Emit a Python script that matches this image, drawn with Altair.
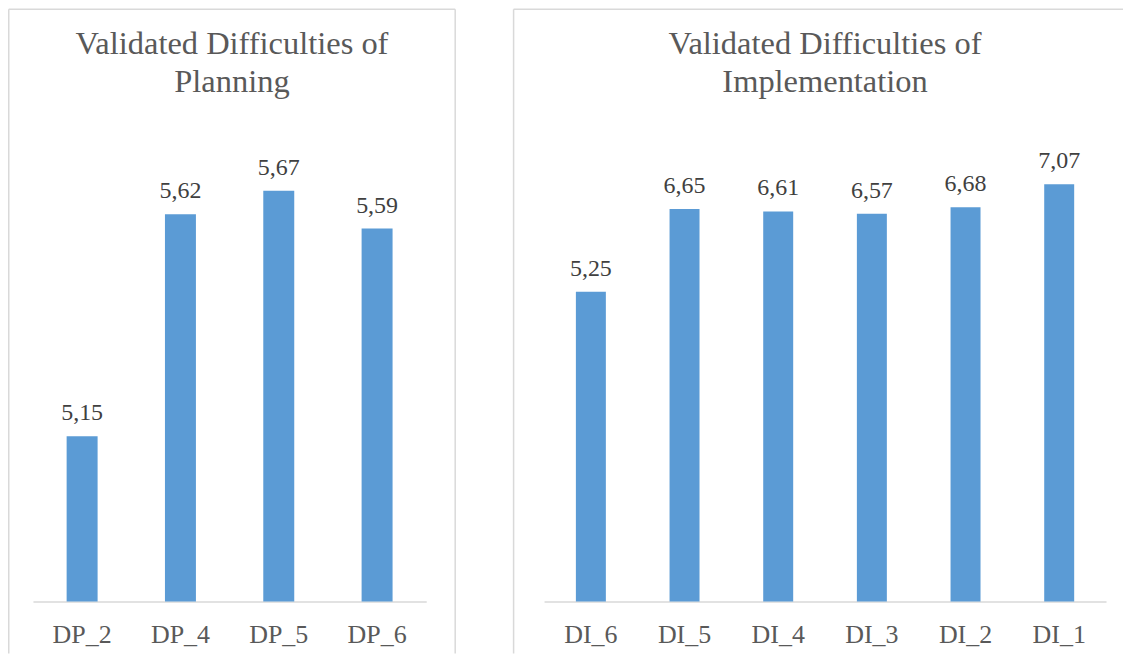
import altair as alt
import pandas as pd

# ---- data ----
dp_cats = ["DP_2", "DP_4", "DP_5", "DP_6"]
dp_vals = [5.15, 5.62, 5.67, 5.59]
di_cats = ["DI_6", "DI_5", "DI_4", "DI_3", "DI_2", "DI_1"]
di_vals = [5.25, 6.65, 6.61, 6.57, 6.68, 7.07]

dp_title = ["Validated Difficulties of", "Planning"]
di_title = ["Validated Difficulties of", "Implementation"]

FONT = "Liberation Serif"
BORDER = "#D9D9D9"
BAR = "#5B9BD5"
H = 473
TOP = -120.25
BOTTOM = 525


def panel(cats, vals, title, width, domain, pad_in, pad_out, bl, br, right_side, frame):
    df = pd.DataFrame({"cat": cats, "val": vals})
    base = alt.Chart(df)
    x = alt.X(
        "cat:N",
        sort=cats,
        title=None,
        scale=alt.Scale(paddingInner=pad_in, paddingOuter=pad_out),
        axis=alt.Axis(
            labelAngle=0,
            labelFont=FONT,
            labelFontSize=26,
            labelColor="#595959",
            ticks=False,
            labelPadding=20,
            domainColor=BORDER,
            domainWidth=1.5,
            grid=False,
        ),
    )
    y = alt.Y(
        "val:Q",
        scale=alt.Scale(domain=domain, zero=False, nice=False, clamp=True),
        axis=None,
    )
    bars = base.mark_bar(color=BAR).encode(x=x, y=y)
    text = (
        base.transform_calculate(label="replace(format(datum.val, '.2f'), '.', ',')")
        .mark_text(font=FONT, fontSize=24, color="#404040", baseline="alphabetic", dy=-16)
        .encode(x=x, y=y, text="label:N")
    )
    one = alt.Chart(pd.DataFrame({"k": [0]}))
    layers = [
        one.mark_rule(color=BORDER, strokeWidth=1.5).encode(
            x=alt.value(bl), x2=alt.value(br), y=alt.value(TOP), y2=alt.value(TOP)
        ),
        one.mark_rule(color=BORDER, strokeWidth=1.5).encode(
            x=alt.value(bl), x2=alt.value(bl), y=alt.value(TOP), y2=alt.value(BOTTOM)
        ),
    ]
    if right_side:
        layers.append(
            one.mark_rule(color=BORDER, strokeWidth=1.5).encode(
                x=alt.value(br), x2=alt.value(br), y=alt.value(TOP), y2=alt.value(BOTTOM)
            )
        )
    layers += [bars, text]
    return alt.layer(*layers).properties(
        width=width,
        height=H,
        title=alt.TitleParams(
            text=title,
            font=FONT,
            fontSize=32.5,
            fontWeight="normal",
            color="#595959",
            lineHeight=38,
            anchor="middle",
            frame=frame,
            offset=-90,
        ),
    )


left = panel(dp_cats, dp_vals, dp_title, 394, [4.8, 5.8], 0.685, 0.3425, -24.25, 423, True, "bounds")
right = panel(di_cats, di_vals, di_title, 563, [0, 8], 0.68, 0.34, -30.5, 580, False, "group")

chart = (
    alt.hconcat(left, right, spacing=56)
    .properties(padding=0, background="white")
    .configure_view(strokeWidth=0, stroke="transparent")
)

chart.save("out.html", embed_options={"renderer": "svg", "actions": False})
